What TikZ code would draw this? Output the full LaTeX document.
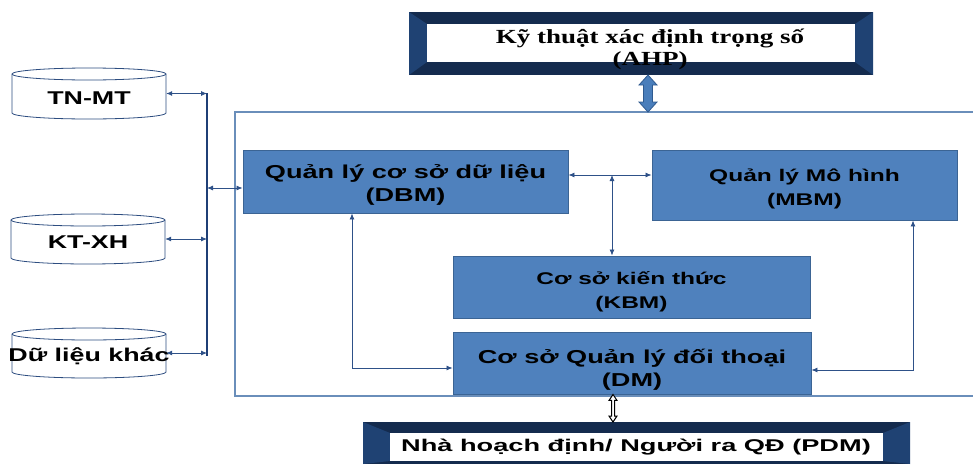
\documentclass[tikz,border=0pt]{standalone}
\usepackage{fontspec}
\usetikzlibrary{arrows.meta,calc}
\setmainfont{Liberation Sans}
\newfontfamily\boxfont{Liberation Sans}[FakeStretch=1.45]
\newfontfamily\titlefont{Liberation Serif}[FakeStretch=1.35]
\newfontfamily\pdmfont{Liberation Sans}[FakeStretch=1.6]

\definecolor{boxblue}{HTML}{4F81BD}
\definecolor{boxedge}{HTML}{3B6494}
\definecolor{linkblue}{HTML}{2E5188}
\definecolor{busblue}{HTML}{1F3F76}
\definecolor{framelight}{HTML}{6A8EBA}
\definecolor{bevtop}{HTML}{142B4E}
\definecolor{bevside}{HTML}{1F4273}
\definecolor{cylline}{HTML}{2D4D80}
\definecolor{blockfill}{HTML}{4A7EBB}
\definecolor{blockedge}{HTML}{2F5A8F}

% bevelled frame: outer x1 y1 x2 y2, inner X1 Y1 X2 Y2
\newcommand\bevelbox[8]{%
  \fill[bevtop] (#1,#2) rectangle (#3,#4);
  \fill[bevside] (#1,#2) -- (#5,#6) -- (#5,#8) -- (#1,#4) -- cycle;
  \fill[bevside] (#3,#2) -- (#7,#6) -- (#7,#8) -- (#3,#4) -- cycle;
  \fill[white] (#5,#6) rectangle (#7,#8);}

% database cylinder: left, top, right, bottom, x radius
\newcommand\dbcylinder[5]{%
  \filldraw[fill=white, draw=cylline, line width=0.8pt]
    (#1,#2+6) -- (#1,#4-6) arc[start angle=180, end angle=0, x radius=#5, y radius=6]
    -- (#3,#2+6) arc[start angle=0, end angle=-180, x radius=#5, y radius=6] -- cycle;
  \draw[cylline, line width=0.8pt] (#1,#2+6) arc[start angle=180, end angle=0, x radius=#5, y radius=6];}

\begin{document}
\begin{tikzpicture}[x=1pt, y=-1pt,
  modbox/.style={rectangle, fill=boxblue, draw=boxedge, line width=0.9pt, inner sep=0pt},
  bigtext/.style={align=center, inner sep=0pt, font=\boxfont\bfseries\fontsize{18.7}{23}\selectfont},
  smalltext/.style={align=center, inner sep=0pt, font=\boxfont\bfseries\fontsize{16.9}{24}\selectfont},
  link/.style={draw=linkblue, line width=0.8pt,
    {Latex[length=6pt,width=5pt]}-{Latex[length=6pt,width=5pt]}},
  dbslot/.style={rectangle, inner sep=0pt, minimum width=154pt, minimum height=51pt},
  dbtext/.style={inner sep=0pt, font=\boxfont\bfseries\fontsize{18.5}{22}\selectfont},
  blockarrow/.style={fill=blockfill, draw=blockedge, line width=0.8pt, line join=miter},
  thinarrow/.style={fill=white, draw=black, line width=1pt, line join=miter}
]
\useasboundingbox (0,0) rectangle (973,466);

% ---- weighting technique (top) ----
\bevelbox{409}{12}{873}{75}{427}{24}{855}{62}
\node[font=\titlefont\bfseries\fontsize{20}{22}\selectfont, align=center, inner sep=0pt]
  (ahp) at (650,49) {Kỹ thuật xác định trọng số\\(AHP)};

% ---- system frame ----
\draw[framelight, line width=1.3pt] (990,112) -- (235,112) -- (235,396) -- (990,396);

% ---- data sources ----
\dbcylinder{12}{68}{166}{119}{77}
\dbcylinder{11}{214}{165}{264}{77}
\dbcylinder{12}{328}{166}{378}{77}
\node[dbslot, label={[dbtext, yshift=-5pt]center:TN-MT}] (tnmt) at (89,93.5) {};
\node[dbslot, label={[dbtext, yshift=-3pt]center:KT-XH}] (ktxh) at (88,239) {};
\node[dbslot, label={[dbtext, yshift=-3pt]center:Dữ liệu khác}] (other) at (89,353) {};

% ---- modules ----
\node[modbox, minimum width=325pt, minimum height=63pt,
  label={[bigtext, yshift=-3.5pt]center:{Quản lý cơ sở dữ liệu\\(DBM)}}] (dbm) at (405.5,181.5) {};
\node[modbox, minimum width=305pt, minimum height=70pt,
  label={[smalltext, yshift=-4pt]center:{Quản lý Mô hình\\(MBM)}}] (mbm) at (804.5,185) {};
\node[modbox, minimum width=357pt, minimum height=62pt,
  label={[smalltext, yshift=-4.5pt]center:{Cơ sở kiến thức\\(KBM)}}] (kbm) at (631.5,287) {};
\node[modbox, minimum width=358pt, minimum height=62pt,
  label={[bigtext, yshift=-6.5pt]center:{Cơ sở Quản lý đối thoại\\(DM)}}] (dm) at (632,363) {};

% ---- decision maker (bottom) ----
\bevelbox{363}{422}{910}{464}{390}{433}{883}{461}
\node[font=\pdmfont\bfseries\fontsize{17}{20}\selectfont, inner sep=0pt]
  (pdm) at (636,447) {Nhà hoạch định/ Người ra QĐ (PDM)};

% ---- bus and junction points ----
\coordinate (busT) at (207,93);
\coordinate (busB) at (207,356);
\coordinate (jDB) at (207,188);
\coordinate (jMid) at (612,175);
\coordinate (cDL) at (352,368);
\coordinate (cMR) at (913,370);
\coordinate (ahpS) at (648,75);
\coordinate (dssN) at (648,112);
\coordinate (xPD) at (613,0);
\coordinate (dmS) at (dm.south -| xPD);
\coordinate (pdmN) at (613,422);

\draw[busblue, line width=2.2pt] (busT) -- (busB);

% sources to bus
\draw[link] (tnmt.east) -- (tnmt.east -| busT);
\draw[link] (ktxh.east) -- (ktxh.east -| busT);
\draw[link] (other.east) -- (other.east -| busT);
% bus to database management
\draw[link] (jDB) -- (jDB -| dbm.west);

% links between modules
\draw[link] (jMid -| dbm.east) -- (jMid -| mbm.west);
\draw[link] (jMid) -- (jMid |- kbm.north);
\draw[link] (cDL |- dbm.south) -- (cDL) -- (cDL -| dm.west);
\draw[link] (cMR |- mbm.south) -- (cMR) -- (cMR -| dm.east);

% block arrow between weighting technique and the system
\draw[blockarrow] (ahpS) -- ++(9,10) -- ++(-4.5,0) -- ($(dssN)+(4.5,-10)$) -- ++(4.5,0)
  -- (dssN) -- ++(-9,-10) -- ++(4.5,0) -- ($(ahpS)+(-4.5,10)$) -- ++(-4.5,0) -- cycle;

% thin double arrow between dialogue module and decision maker
\draw[thinarrow] (dmS) -- ++(4,6) -- ++(-2.5,0) -- ($(pdmN)+(1.5,-6)$) -- ++(2.5,0)
  -- (pdmN) -- ++(-4,-6) -- ++(2.5,0) -- ($(dmS)+(-1.5,6)$) -- ++(-2.5,0) -- cycle;
\end{tikzpicture}
\end{document}
